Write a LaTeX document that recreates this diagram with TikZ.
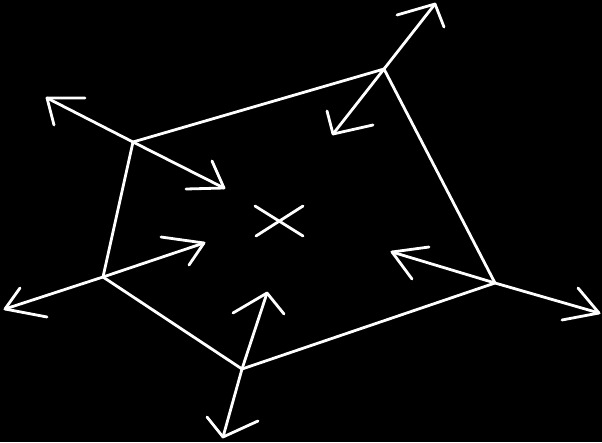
\documentclass[tikz,border=0pt]{standalone}
\begin{document}
\begin{tikzpicture}[x=1pt,y=-1pt,
  ln/.style={draw=white,line width=2.8pt,line cap=round,line join=round}]
\fill[black] (0,0) rectangle (602,442);
\useasboundingbox (0,0) rectangle (602,442);
% vertices
\coordinate (A) at (133,142);
\coordinate (B) at (384,69);
\coordinate (D) at (495,283);
\coordinate (C) at (242,369);
\coordinate (E) at (103,277);
% pentagon
\draw[ln] (A) -- (B) -- (D) -- (C) -- (E) -- cycle;
% vertex A
\coordinate (Ao) at (47,98);
\coordinate (Ai) at (224,188);
\draw[ln] (A) -- (Ao);
\draw[ln] (85,98) -- (Ao) -- (54,125);
\draw[ln] (A) -- (Ai);
\draw[ln] (186,189) -- (Ai) -- (212,161);
% vertex B
\coordinate (Bo) at (435,4);
\coordinate (Bi) at (333,134);
\draw[ln] (B) -- (Bo);
\draw[ln] (397,15) -- (Bo) -- (444,27);
\draw[ln] (B) -- (Bi);
\draw[ln] (327,111) -- (Bi) -- (373,125);
% vertex E
\coordinate (Eo) at (5,309);
\coordinate (Ei) at (204,243);
\draw[ln] (E) -- (Eo);
\draw[ln] (20,288) -- (Eo) -- (47,317);
\draw[ln] (E) -- (Ei);
\draw[ln] (161,237) -- (Ei) -- (189,265);
% vertex D
\coordinate (Do) at (599,313);
\coordinate (Di) at (392,252);
\draw[ln] (D) -- (Do);
\draw[ln] (578,288) -- (Do) -- (562,320);
\draw[ln] (D) -- (Di);
\draw[ln] (429,247) -- (Di) -- (412,279);
% vertex C
\coordinate (Co) at (223,437);
\coordinate (Ci) at (267,293);
\draw[ln] (C) -- (Co);
\draw[ln] (207,417) -- (Co) -- (258,421);
\draw[ln] (C) -- (Ci);
\draw[ln] (233,313) -- (Ci) -- (284,314);
% centre cross
\coordinate (X1) at (255,206);
\coordinate (X2) at (303,236);
\coordinate (X3) at (256,236);
\coordinate (X4) at (303,206);
\draw[ln] (X1) -- (X2);
\draw[ln] (X3) -- (X4);
\end{tikzpicture}
\end{document}
